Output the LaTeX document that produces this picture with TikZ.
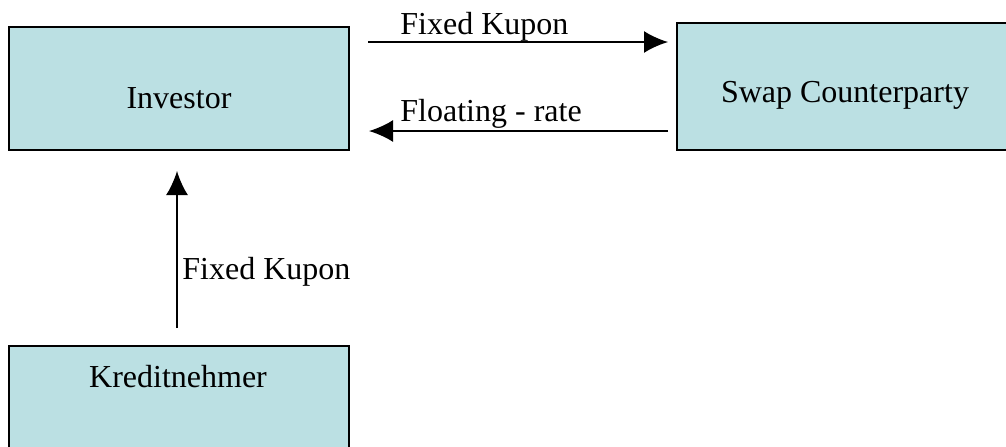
\documentclass[tikz,border=0pt]{standalone}
\usepackage{fontspec}
\setmainfont{Liberation Serif}
\usetikzlibrary{arrows.meta}
\definecolor{boxfill}{RGB}{187,224,227}
\tikzset{
  box/.style={draw=black, line width=1.3pt, fill=boxfill, rectangle, inner sep=0pt},
  lbl/.style={font=\fontsize{16}{19}\selectfont, inner sep=0pt, anchor=base west},
  txt/.style={font=\fontsize{16}{19}\selectfont, inner sep=0pt, anchor=base},
  arr/.style={line width=1pt, -{Latex[length=12pt,width=11pt]}}
}
\begin{document}
\begin{tikzpicture}[x=0.5pt,y=-0.5pt]
\useasboundingbox (0,0) rectangle (1006,446);
\clip (0,0) rectangle (1006,446);
\node[box, minimum width=170pt, minimum height=61.5pt] (inv) at (179,88.5) {};
\node[box, minimum width=168pt, minimum height=63.5pt] (swap) at (845,86.5) {};
\node[box, minimum width=170pt, minimum height=62pt] (kred) at (179,408) {};
\node[txt] (tinv) at (179,108) {Investor};
\node[txt] (tswap) at (845,102) {Swap Counterparty};
\node[txt] (tkred) at (178,387) {Kreditnehmer};
\coordinate (a1) at (368,42);
\coordinate (a2) at (668,42);
\coordinate (b1) at (668,131);
\coordinate (b2) at (369,131);
\coordinate (c1) at (177,328);
\coordinate (c2) at (177,171);
\draw[arr] (a1) -- (a2);
\draw[arr] (b1) -- (b2);
\draw[arr] (c1) -- (c2);
\node[lbl] (l1) at (400,34) {Fixed Kupon};
\node[lbl] (l2) at (400,121) {Floating - rate};
\node[lbl] (l3) at (182,279) {Fixed Kupon};
\end{tikzpicture}
\end{document}
